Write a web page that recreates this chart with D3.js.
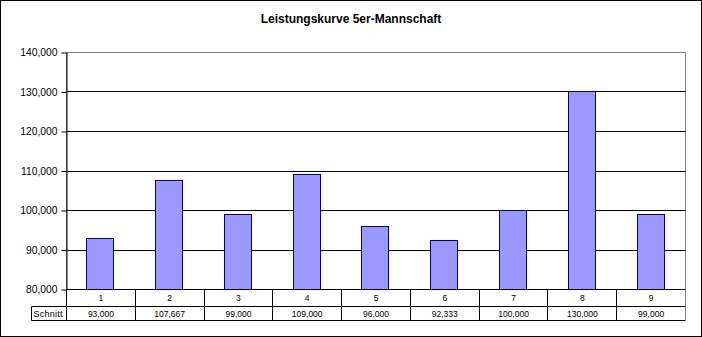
<!DOCTYPE html>
<html>
<head>
<meta charset="utf-8">
<script src="https://cdn.jsdelivr.net/npm/d3@7/dist/d3.min.js"></script>
<style>
  html, body { margin: 0; padding: 0; background: #fff; }
  svg { display: block; }
  text { font-family: Arial, "Liberation Sans", sans-serif; fill: #000; }
</style>
</head>
<body>
<svg id="chart" width="702" height="337"></svg>
<script>
// Chart data
const title = "Leistungskurve 5er-Mannschaft";
const categories = ["1", "2", "3", "4", "5", "6", "7", "8", "9"];
const seriesName = "Schnitt";
const values = [93000, 107667, 99000, 109000, 96000, 92333, 100000, 130000, 99000];
const yTicks = [80000, 90000, 100000, 110000, 120000, 130000, 140000];

const W = 702, H = 337;
const plot = { left: 66.5, right: 685.5, top: 52.5, bottom: 289.5 };
const row1H = 17, row2H = 14;
const labelCellLeft = 31.5;

const svg = d3.select("#chart");
const fmt = d3.format(",.0f");

// Outer frame
svg.append("rect")
  .attr("x", 0.5).attr("y", 0.5)
  .attr("width", W - 1).attr("height", H - 1)
  .attr("fill", "#fff").attr("stroke", "#000");

// Title
svg.append("text")
  .attr("x", 351).attr("y", 23)
  .attr("text-anchor", "middle")
  .attr("font-size", "12px").attr("font-weight", "bold")
  .text(title);

// Bars sit slightly left of their table column centre
const x = d3.scaleBand()
  .domain(categories)
  .range([plot.left, plot.right])
  .paddingInner(0.607).paddingOuter(0.3035).align(0.474);

const xCol = d3.scaleBand()
  .domain(categories)
  .range([plot.left, plot.right]);

const y = d3.scaleLinear()
  .domain([yTicks[0], yTicks[yTicks.length - 1]])
  .range([plot.bottom, plot.top]);

// Plot area border (grey)
svg.append("rect")
  .attr("x", plot.left).attr("y", plot.top)
  .attr("width", plot.right - plot.left).attr("height", plot.bottom - plot.top)
  .attr("fill", "#fff").attr("stroke", "#808080");

// Gridlines
svg.append("g")
  .selectAll("line")
  .data(yTicks.slice(1, -1))
  .join("line")
  .attr("x1", plot.left).attr("x2", plot.right)
  .attr("y1", d => Math.round(y(d) - 0.5) + 0.5)
  .attr("y2", d => Math.round(y(d) - 0.5) + 0.5)
  .attr("stroke", "#000");

// Bars
svg.append("g")
  .selectAll("rect")
  .data(values)
  .join("rect")
  .attr("x", (d, i) => Math.round(x(categories[i])) + 0.5)
  .attr("width", Math.round(x.bandwidth()))
  .attr("y", d => Math.round(y(d) - 0.5) + 0.5)
  .attr("height", d => plot.bottom - (Math.round(y(d) - 0.5) + 0.5))
  .attr("fill", "#9999FF").attr("stroke", "#000080");

// Y axis
const yAxis = d3.axisLeft(y)
  .tickValues(yTicks)
  .tickFormat(fmt)
  .tickSize(5)
  .tickPadding(4);
const gy = svg.append("g")
  .attr("transform", `translate(${plot.left},0)`)
  .call(yAxis);
gy.select(".domain").attr("stroke", "#000").attr("d", `M0.5,${plot.top}V${plot.bottom}`);
gy.selectAll(".tick line").attr("stroke", "#000");
gy.selectAll(".tick text")
  .attr("font-size", "10.3px")
  .attr("font-family", "Arial, 'Liberation Sans', sans-serif")
  .attr("fill", "#000");

// Data table under the axis
const tbl = svg.append("g");
const r1Top = plot.bottom, r1Bot = plot.bottom + row1H, r2Bot = r1Bot + row2H;

// Horizontal lines
tbl.append("line").attr("x1", plot.left).attr("x2", plot.right)
  .attr("y1", r1Top).attr("y2", r1Top).attr("stroke", "#000");
tbl.append("line").attr("x1", labelCellLeft).attr("x2", plot.right)
  .attr("y1", r1Bot).attr("y2", r1Bot).attr("stroke", "#000");
tbl.append("line").attr("x1", labelCellLeft).attr("x2", plot.right)
  .attr("y1", r2Bot).attr("y2", r2Bot).attr("stroke", "#000");

// Vertical separators
const seps = categories.map(c => Math.round(xCol(c) - 0.5) + 0.5).concat([plot.right]);
tbl.selectAll("line.sep")
  .data(seps)
  .join("line")
  .attr("class", "sep")
  .attr("x1", d => d).attr("x2", d => d)
  .attr("y1", r1Top).attr("y2", r2Bot)
  .attr("stroke", (d, i) => i === seps.length - 1 ? "#808080" : "#000");
tbl.append("line").attr("x1", labelCellLeft).attr("x2", labelCellLeft)
  .attr("y1", r1Bot).attr("y2", r2Bot).attr("stroke", "#000");

// Category labels
tbl.selectAll("text.cat")
  .data(categories)
  .join("text")
  .attr("class", "cat")
  .attr("x", d => xCol(d) + xCol.bandwidth() / 2)
  .attr("y", r1Top + 11.5)
  .attr("text-anchor", "middle")
  .attr("font-size", "8.5px")
  .text(d => d);

// Values row
tbl.append("text")
  .attr("x", labelCellLeft + 2).attr("y", r1Bot + 10.5)
  .attr("font-size", "9px")
  .attr("textLength", 29)
  .text(seriesName);
tbl.selectAll("text.val")
  .data(values)
  .join("text")
  .attr("class", "val")
  .attr("x", (d, i) => xCol(categories[i]) + xCol.bandwidth() / 2)
  .attr("y", r1Bot + 10.5)
  .attr("text-anchor", "middle")
  .attr("font-size", "8.5px")
  .text(d => fmt(d));
</script>
</body>
</html>
